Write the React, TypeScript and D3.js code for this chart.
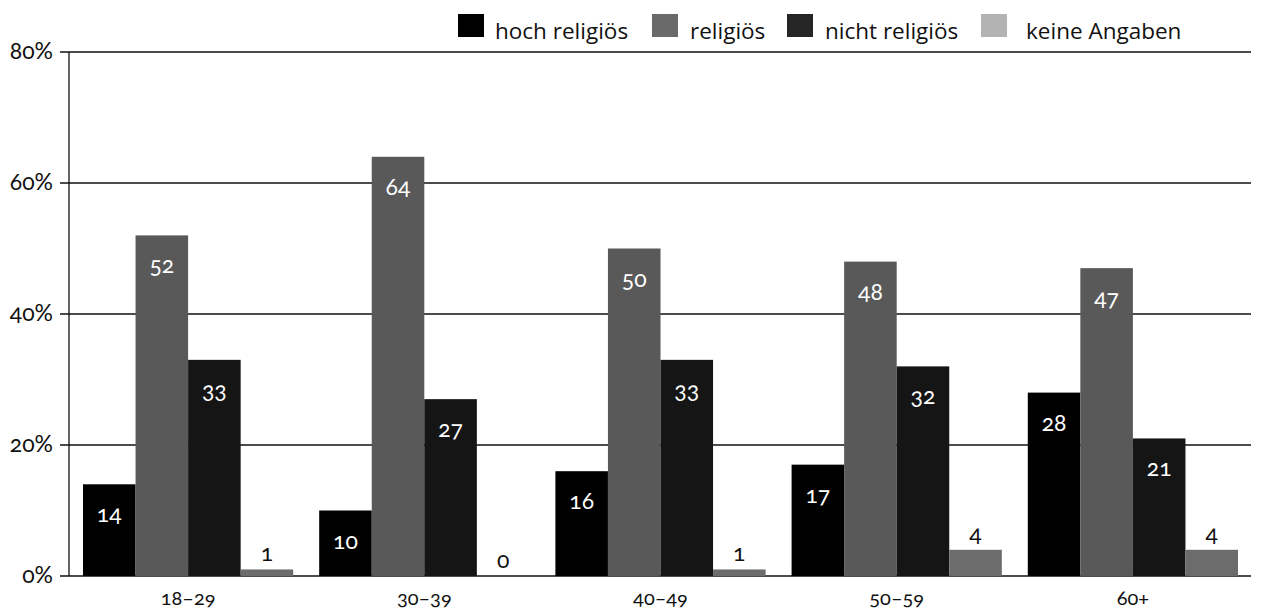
import React from "react";
import * as d3 from "d3";

const categories = ["18–29", "30–39", "40–49", "50–59", "60+"];
const seriesNames = ["hoch religiös", "religiös", "nicht religiös", "keine Angaben"];
const hochReligioes = [14, 10, 16, 17, 28];
const religioes = [52, 64, 50, 48, 47];
const nichtReligioes = [33, 27, 33, 32, 21];
const keineAngaben = [1, 0, 1, 4, 4];
const yTicks = [0, 20, 40, 60, 80];

const seriesValues = [hochReligioes, religioes, nichtReligioes, keineAngaben];
const barColors = ["#000000", "#595959", "#151515", "#6c6c6c"];
const legendColors = ["#000000", "#6a6a6a", "#262626", "#b3b3b3"];
const legendX = [458, 652, 787, 981];
const legendTextX = [495, 690, 825, 1026];

const W = 1263;
const H = 611;
const left = 70;
const right = 1251;
const top = 52;
const bottom = 576;

export default function App() {
  const x0 = d3.scaleBand<string>().domain(categories).range([left, right]).paddingInner(0.11).paddingOuter(0.055);
  const x1 = d3.scaleBand<string>().domain(seriesNames).range([0, x0.bandwidth()]).padding(0);
  const y = d3.scaleLinear().domain([0, 80]).range([bottom, top]);
  const numFont = {
    fontFamily: "Lato, 'Noto Sans', sans-serif",
    fontWeight: 400,
    fontVariantNumeric: "oldstyle-nums" as const,
    fontFeatureSettings: "'onum' 1",
  };

  return (
    <svg width={W} height={H} style={{ position: "absolute", left: 0, top: 0, background: "#fff" }}>
      {yTicks.map((t) => (
        <g key={t}>
          <line x1={60} x2={right} y1={y(t)} y2={y(t)} stroke="#111" strokeWidth={1.3} />
          <text x={53} y={y(t) + 7} textAnchor="end" fontSize={23} fill="#111" style={numFont}>
            {t}%
          </text>
        </g>
      ))}
      <line x1={69} x2={69} y1={top} y2={bottom} stroke="#111" strokeWidth={1.3} />
      {categories.map((c, ci) => (
        <g key={c} transform={`translate(${x0(c)},0)`}>
          {seriesNames.map((s, si) => {
            const v = seriesValues[si][ci];
            const bx = x1(s)!;
            const bw = x1.bandwidth();
            const small = si === 3;
            return (
              <g key={s}>
                {v > 0 && <rect x={bx} y={y(v)} width={bw} height={y(0) - y(v)} fill={barColors[si]} />}
                <text
                  x={bx + bw / 2}
                  y={small ? y(v) - 8 : y(v) + 38}
                  textAnchor="middle"
                  fontSize={23}
                  fill={small ? "#111" : "#fff"}
                  style={numFont}
                >
                  {v}
                </text>
              </g>
            );
          })}
          <text x={x0.bandwidth() / 2} y={605} textAnchor="middle" fontSize={20} fill="#111" style={numFont}>
            {c}
          </text>
        </g>
      ))}
      {seriesNames.map((s, i) => (
        <g key={s}>
          <rect x={legendX[i]} y={14} width={26} height={23} fill={legendColors[i]} />
          <text x={legendTextX[i]} y={39} fontSize={22.5} fill="#111" fontFamily="'Open Sans', 'Noto Sans', sans-serif">
            {s}
          </text>
        </g>
      ))}
    </svg>
  );
}
